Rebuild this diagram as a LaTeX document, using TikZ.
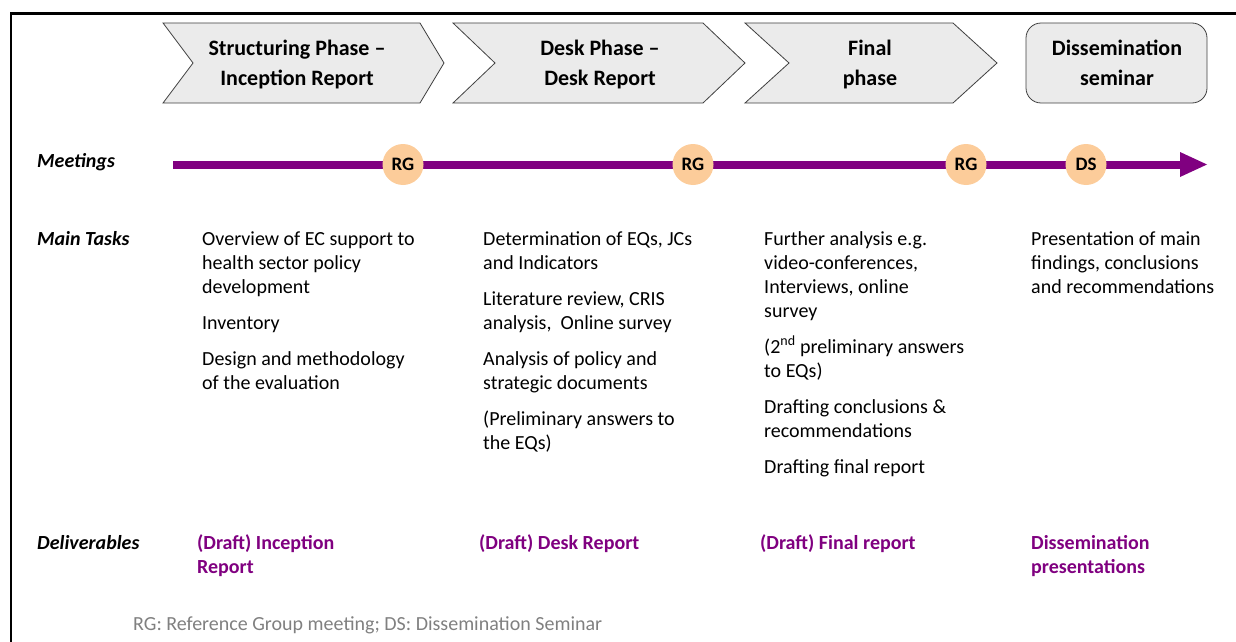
\documentclass[tikz,border=0pt]{standalone}
\usepackage{fontspec}
\setmainfont{Carlito}
\definecolor{peach}{RGB}{252,204,154}
\definecolor{dpurple}{RGB}{128,0,128}
\definecolor{phasefill}{RGB}{235,235,235}
\definecolor{phaseline}{RGB}{64,64,64}
\definecolor{notegray}{RGB}{128,128,128}
\begin{document}
\begin{tikzpicture}[x=1pt,y=-1pt,
  phase/.style={draw=phaseline, line width=0.8pt, fill=phasefill},
  hdr/.style={align=center, anchor=north, inner sep=0pt,
    font=\fontsize{22}{30}\selectfont\bfseries},
  meet/.style={circle, fill=peach, minimum size=41pt, inner sep=0pt,
    font=\fontsize{19}{20}\selectfont\bfseries},
  rowlabel/.style={anchor=base west, inner sep=0pt,
    font=\fontsize{20}{24}\selectfont\bfseries\itshape},
  task/.style={align=left, anchor=north west, inner sep=0pt,
    font=\fontsize{20}{24}\selectfont},
  deliv/.style={align=left, anchor=north west, inner sep=0pt, text=dpurple,
    font=\fontsize{20}{24}\selectfont\bfseries},
  note/.style={anchor=base west, inner sep=0pt, text=notegray,
    font=\fontsize{20}{24}\selectfont},
]
\useasboundingbox (0,0) rectangle (1236,642);

% frame
\draw[line width=2.5pt] (11,642) -- (11,13.5) -- (1236,13.5);

% phase headers
\draw[phase] (163,23) -- (420,23) -- (444,63) -- (420,103) -- (163,103) -- (193,63) -- cycle;
\draw[phase] (453,23) -- (703,23) -- (745,63) -- (703,103) -- (453,103) -- (495,63) -- cycle;
\draw[phase] (745,23) -- (953,23) -- (997,63) -- (953,103) -- (745,103) -- (789,63) -- cycle;
\draw[phase, rounded corners=15pt] (1026,23) rectangle (1207,103);

\node[hdr] (h1) at (297,34) {\strut Structuring Phase --\\Inception Report};
\node[hdr] (h2) at (600,34) {\strut Desk Phase --\\Desk Report};
\node[hdr] (h3) at (870,34) {\strut Final\\phase};
\node[hdr] (h4) at (1117,34) {\strut Dissemination\\seminar};

% meetings timeline
\coordinate (tstart) at (173,164.5);
\coordinate (tend) at (1182,164.5);
\draw[dpurple, line width=8pt] (tstart) -- (tend);
\fill[dpurple] (1180,152) -- (1207,164.5) -- (1180,177) -- cycle;
\node[meet] (m1) at (403,164.5) {RG};
\node[meet] (m2) at (693,164.5) {RG};
\node[meet] (m3) at (966,164.5) {RG};
\node[meet] (m4) at (1086,164.5) {DS};

% row labels
\node[rowlabel] (lmeet) at (37,167) {Meetings};
\node[rowlabel] (ltask) at (37,245) {Main Tasks};
\node[rowlabel] (ldeliv) at (37,549) {Deliverables};

% main tasks
\node[task] (t1) at (202,228.2) {\strut Overview of EC support to\\health sector policy\\development\\[12pt]Inventory\\[12pt]Design and methodology\\of the evaluation};
\node[task] (t2) at (483,228.2) {\strut Determination of EQs, JCs\\and Indicators\\[12pt]Literature review, CRIS\\analysis,\ \ Online survey\\[12pt]Analysis of policy and\\strategic documents\\[12pt](Preliminary answers to\\the EQs)};
\node[task] (t3) at (764,228.2) {\strut Further analysis e.g.\\video-conferences,\\Interviews, online\\survey\\[12pt](2\textsuperscript{nd} preliminary answers\\to EQs)\\[12pt]Drafting conclusions \&\\recommendations\\[12pt]Drafting final report};
\node[task] (t4) at (1031,228.2) {\strut Presentation of main\\findings, conclusions\\and recommendations};

% deliverables
\node[deliv] (d1) at (197,532.2) {\strut (Draft) Inception\\Report};
\node[deliv] (d2) at (479,532.2) {\strut (Draft) Desk Report};
\node[deliv] (d3) at (760,532.2) {\strut (Draft) Final report};
\node[deliv] (d4) at (1031,532.2) {\strut Dissemination\\presentations};

% legend
\node[note] (legend) at (133,630) {RG: Reference Group meeting; DS: Dissemination Seminar};
\end{tikzpicture}
\end{document}
